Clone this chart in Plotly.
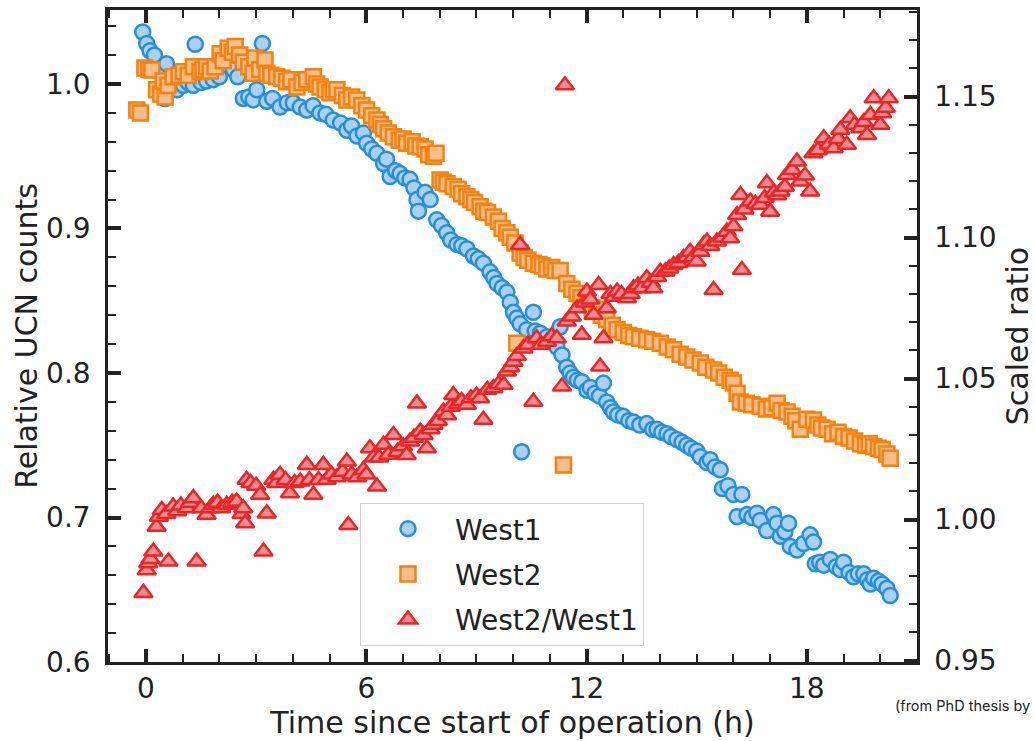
import plotly.graph_objects as go

# ---------------- data ----------------
west1_t = [-0.09, 0.02, 0.11, 0.23, 0.42, 0.52, 0.56, 0.70, 0.84, 1.02, 1.15, 1.29, 1.34, 1.50, 1.65,
           1.83, 2.00, 2.20, 2.38, 2.50, 2.65, 2.80, 2.92, 3.02, 3.17, 3.29, 3.45, 3.65, 3.85, 4.01,
           4.20, 4.38, 4.55, 4.74, 4.90, 5.10, 5.30, 5.47, 5.60, 5.75, 5.92, 6.01, 6.15, 6.29, 6.47,
           6.55, 6.65, 6.80, 6.92, 7.05, 7.19, 7.30, 7.38, 7.42, 7.60, 7.74, 7.92, 8.05, 8.19, 8.30,
           8.47, 8.60, 8.74, 8.92, 9.05, 9.19, 9.37, 9.47, 9.56, 9.70, 9.83, 9.92, 10.01, 10.10, 10.19,
           10.23, 10.37, 10.55, 10.60, 10.74, 10.92, 11.05, 11.19, 11.28, 11.33, 11.46, 11.55, 11.64,
           11.75, 11.87, 12.01, 12.10, 12.23, 12.35, 12.46, 12.55, 12.65, 12.73, 12.85, 13.00, 13.15,
           13.28, 13.45, 13.64, 13.80, 13.92, 14.05, 14.19, 14.30, 14.46, 14.60, 14.73, 14.85, 15.00,
           15.10, 15.28, 15.37, 15.50, 15.64, 15.70, 15.85, 16.00, 16.10, 16.23, 16.37, 16.50, 16.64,
           16.73, 16.91, 17.09, 17.19, 17.28, 17.40, 17.50, 17.55, 17.73, 17.91, 18.09, 18.18, 18.23,
           18.35, 18.46, 18.64, 18.80, 18.91, 19.00, 19.15, 19.27, 19.40, 19.55, 19.65, 19.73, 19.82,
           19.95, 20.05, 20.18, 20.27]
west1_y = [1.036, 1.028, 1.023, 1.020, 1.009, 0.990, 1.014, 0.997, 0.996, 0.999, 1.001, 0.999, 1.0275, 1.001, 1.002,
           1.003, 1.005, 1.013, 1.010, 1.005, 0.990, 0.991, 0.989, 0.996, 1.028, 0.988, 0.990, 0.984, 0.987, 0.987,
           0.984, 0.982, 0.985, 0.980, 0.979, 0.975, 0.973, 0.968, 0.971, 0.964, 0.966, 0.959, 0.955, 0.952, 0.945,
           0.948, 0.936, 0.940, 0.938, 0.935, 0.934, 0.928, 0.920, 0.912, 0.925, 0.920, 0.906, 0.902, 0.897, 0.892,
           0.889, 0.888, 0.886, 0.881, 0.879, 0.876, 0.870, 0.866, 0.862, 0.859, 0.856, 0.849, 0.842, 0.838, 0.834,
           0.7455, 0.830, 0.842, 0.829, 0.8275, 0.825, 0.822, 0.818, 0.832, 0.8125, 0.804, 0.800, 0.797,
           0.795, 0.794, 0.788, 0.790, 0.786, 0.784, 0.793, 0.780, 0.776, 0.773, 0.771, 0.770, 0.767,
           0.766, 0.764, 0.765, 0.761, 0.761, 0.759, 0.758, 0.756, 0.754, 0.752, 0.750, 0.748, 0.746,
           0.742, 0.738, 0.740, 0.735, 0.733, 0.720, 0.722, 0.716, 0.7006, 0.716, 0.702, 0.700, 0.703,
           0.698, 0.691, 0.702, 0.696, 0.687, 0.690, 0.696, 0.680, 0.6775, 0.682, 0.688, 0.683, 0.668,
           0.669, 0.667, 0.671, 0.666, 0.664, 0.669, 0.662, 0.659, 0.661, 0.661, 0.657, 0.654, 0.658,
           0.656, 0.654, 0.651, 0.646]

west2_t = [-0.25, -0.15, -0.03, 0.08, 0.16, 0.29, 0.40, 0.47, 0.52, 0.60, 0.74, 0.90, 1.02, 1.15, 1.29,
           1.47, 1.55, 1.65, 1.75, 1.88, 2.02, 2.10, 2.24, 2.35, 2.43, 2.55, 2.65, 2.80, 2.92, 2.97,
           3.10, 3.24, 3.29, 3.40, 3.56, 3.70, 3.83, 3.95, 4.11, 4.25, 4.38, 4.56, 4.65, 4.74, 4.88,
           5.01, 5.10, 5.20, 5.35, 5.47, 5.60, 5.74, 5.88, 6.01, 6.15, 6.29, 6.38, 6.47, 6.60, 6.74,
           6.90, 7.00, 7.10, 7.25, 7.35, 7.47, 7.60, 7.70, 7.83, 7.90, 8.01, 8.10, 8.20, 8.37, 8.50,
           8.60, 8.74, 8.85, 8.95, 9.10, 9.20, 9.30, 9.46, 9.60, 9.70, 9.83, 9.92, 10.05, 10.10, 10.19,
           10.30, 10.40, 10.55, 10.70, 10.80, 10.92, 11.05, 11.15, 11.28, 11.37, 11.46, 11.60, 11.74,
           11.85, 12.01, 12.15, 12.28, 12.40, 12.55, 12.70, 12.83, 13.00, 13.15, 13.28, 13.45, 13.64,
           13.80, 14.01, 14.20, 14.37, 14.55, 14.73, 14.90, 15.10, 15.25, 15.46, 15.60, 15.75, 15.91,
           16.00, 16.10, 16.19, 16.35, 16.50, 16.73, 16.90, 17.05, 17.19, 17.30, 17.46, 17.60, 17.70,
           17.82, 18.00, 18.18, 18.30, 18.40, 18.55, 18.70, 18.85, 19.00, 19.15, 19.30, 19.46, 19.60,
           19.70, 19.82, 19.95, 20.05, 20.18, 20.27]
west2_y = [0.982, 0.980, 1.011, 1.010, 1.0097, 0.996, 0.993, 1.002, 0.991, 0.999, 1.005, 1.006, 1.0085, 1.006, 1.012,
           1.0085, 1.010, 1.012, 1.009, 1.012, 1.021, 1.016, 1.0247, 1.022, 1.026, 1.020, 1.015, 1.012, 1.0074, 1.018,
           1.010, 1.0166, 1.0074, 1.006, 1.005, 1.004, 1.0016, 1.003, 0.998, 1.001, 1.003, 1.005, 1.000, 0.998, 0.996,
           0.994, 0.996, 0.996, 0.992, 0.989, 0.991, 0.989, 0.985, 0.982, 0.978, 0.975, 0.972, 0.969, 0.966, 0.9635,
           0.961, 0.962, 0.959, 0.960, 0.957, 0.9566, 0.955, 0.951, 0.950, 0.952, 0.9336, 0.932, 0.931, 0.929, 0.927,
           0.924, 0.922, 0.920, 0.918, 0.915, 0.912, 0.911, 0.908, 0.905, 0.900, 0.897, 0.894, 0.890, 0.8206, 0.883,
           0.880, 0.878, 0.876, 0.875, 0.874, 0.872, 0.873, 0.871, 0.871, 0.7363, 0.862, 0.858, 0.855,
           0.852, 0.848, 0.845, 0.844, 0.840, 0.837, 0.833, 0.830, 0.828, 0.826, 0.825, 0.824, 0.823,
           0.822, 0.8206, 0.818, 0.816, 0.813, 0.811, 0.809, 0.807, 0.804, 0.802, 0.800, 0.797, 0.795,
           0.793, 0.786, 0.780, 0.779, 0.778, 0.777, 0.775, 0.776, 0.779, 0.774, 0.773, 0.770, 0.767,
           0.761, 0.768, 0.7675, 0.764, 0.762, 0.761, 0.758, 0.759, 0.756, 0.755, 0.753, 0.751, 0.750,
           0.751, 0.749, 0.748, 0.747, 0.744, 0.741]

ratio_t = [-0.07, 0.02, 0.06, 0.12, 0.20, 0.29, 0.35, 0.43, 0.55, 0.61, 0.74, 0.85, 0.95, 1.11, 1.20,
           1.29, 1.38, 1.50, 1.65, 1.75, 1.83, 1.95, 2.05, 2.20, 2.35, 2.47, 2.60, 2.65, 2.70, 2.74,
           2.85, 3.00, 3.11, 3.20, 3.29, 3.47, 3.55, 3.65, 3.80, 3.92, 4.05, 4.20, 4.38, 4.45, 4.56,
           4.70, 4.83, 4.92, 5.05, 5.20, 5.35, 5.47, 5.51, 5.60, 5.75, 5.92, 6.00, 6.10, 6.20, 6.29,
           6.35, 6.47, 6.60, 6.74, 6.85, 7.00, 7.10, 7.19, 7.30, 7.38, 7.47, 7.56, 7.65, 7.75, 7.83,
           7.95, 8.10, 8.20, 8.30, 8.37, 8.50, 8.60, 8.74, 8.85, 9.00, 9.10, 9.19, 9.30, 9.46, 9.60,
           9.74, 9.83, 9.92, 10.01, 10.10, 10.19, 10.28, 10.40, 10.55, 10.64, 10.75, 10.92, 11.05, 11.19,
           11.33, 11.41, 11.46, 11.60, 11.74, 11.87, 11.95, 12.01, 12.10, 12.19, 12.33, 12.37, 12.46,
           12.55, 12.65, 12.75, 12.83, 12.95, 13.10, 13.20, 13.28, 13.40, 13.50, 13.64, 13.75, 13.82,
           13.92, 14.01, 14.15, 14.25, 14.37, 14.50, 14.64, 14.73, 14.82, 14.90, 15.00, 15.10, 15.19,
           15.28, 15.37, 15.46, 15.55, 15.70, 15.82, 15.91, 16.00, 16.10, 16.19, 16.23, 16.30, 16.46,
           16.60, 16.73, 16.85, 16.91, 17.00, 17.10, 17.19, 17.28, 17.40, 17.46, 17.60, 17.73, 17.82,
           17.95, 18.09, 18.18, 18.30, 18.46, 18.60, 18.73, 18.85, 18.91, 19.09, 19.18, 19.30, 19.46,
           19.55, 19.64, 19.73, 19.82, 20.00, 20.05, 20.15, 20.23]
ratio_y = [0.974, 0.982, 0.9845, 0.986, 0.9887, 0.9975, 1.001, 1.0034, 1.002, 0.9851, 1.0046, 1.003, 1.005, 1.004, 1.006,
           1.0076, 0.9851, 1.004, 1.0017, 1.004, 1.0052, 1.006, 1.004, 1.0052, 1.006, 1.0064, 1.002, 1.004, 0.9987, 1.0141,
           1.013, 1.012, 1.0088, 0.9887, 1.0022, 1.0141, 1.013, 1.0159, 1.014, 1.0093, 1.013, 1.0135, 1.0194, 1.014, 1.0088,
           1.014, 1.0194, 1.0141, 1.016, 1.015, 1.017, 1.0206, 0.9981, 1.016, 1.015, 1.0176, 1.016, 1.0253, 1.022, 1.0117,
           1.022, 1.0265, 1.023, 1.030, 1.024, 1.026, 1.0229, 1.0277, 1.029, 1.0412, 1.0312, 1.030, 1.0253, 1.032, 1.0336,
           1.035, 1.0383, 1.037, 1.040, 1.0442, 1.041, 1.042, 1.0407, 1.043, 1.044, 1.043, 1.0354, 1.046, 1.0466, 1.048,
           1.0478, 1.0525, 1.054, 1.056, 1.058, 1.0974, 1.0607, 1.062, 1.0418, 1.0643, 1.062, 1.0631, 1.065, 1.0643,
           1.0472, 1.154, 1.0702, 1.072, 1.0749, 1.0655, 1.077, 1.0809, 1.078, 1.0726, 1.0832, 1.0543, 1.0643,
           1.0749, 1.080, 1.079, 1.0809, 1.080, 1.0785, 1.080, 1.082, 1.083, 1.082, 1.0856, 1.084, 1.082,
           1.086, 1.0879, 1.088, 1.089, 1.0903, 1.091, 1.0927, 1.093, 1.095, 1.093, 1.0915, 1.095, 1.0974,
           1.0986, 1.097, 1.0814, 1.0986, 1.100, 1.1021, 1.0998, 1.104, 1.108, 1.1151, 1.0885, 1.110, 1.1128,
           1.112, 1.1116, 1.114, 1.1193, 1.1092, 1.116, 1.115, 1.1163, 1.118, 1.1222, 1.124, 1.127, 1.1199,
           1.122, 1.1163, 1.1299, 1.131, 1.1352, 1.133, 1.1317, 1.135, 1.1382, 1.1329, 1.1423, 1.140, 1.1388,
           1.141, 1.1364, 1.1435, 1.1494, 1.140, 1.1441, 1.146, 1.1494]

x_major_ticks = [0, 6, 12, 18]

# ---------------- figure ----------------
INK = "#222222"
FONT = "DejaVu Sans"

fig = go.Figure()
fig.add_trace(go.Scatter(
    x=west1_t, y=west1_y, mode="markers", name="West1", legendgroup="a",
    marker=dict(symbol="circle", size=15, color="#abd0f5", line=dict(color="#2590d8", width=2.5)),
    yaxis="y"))
fig.add_trace(go.Scatter(
    x=west2_t, y=west2_y, mode="markers", name="West2", legendgroup="b",
    marker=dict(symbol="square", size=15, color="#f7bd8a", line=dict(color="#f5820f", width=2.5)),
    yaxis="y"))
fig.add_trace(go.Scatter(
    x=ratio_t, y=ratio_y, mode="markers", name="West2/West1", legendgroup="c",
    marker=dict(symbol="triangle-up", size=16, color="#f08c8c", line=dict(color="#e8262a", width=2.5)),
    yaxis="y2"))

tick_common = dict(ticks="inside", tickcolor=INK, showgrid=False, zeroline=False,
                   showline=True, linecolor=INK, linewidth=2.5,
                   tickfont=dict(family=FONT, size=28, color=INK), automargin=False)

fig.update_layout(
    width=1035, height=741,
    margin=dict(l=108, r=118, t=10, b=79),
    paper_bgcolor="white", plot_bgcolor="white",
    font=dict(family=FONT, color=INK),
    xaxis=dict(range=[-1.035, 21.0], tickmode="array", tickvals=x_major_ticks,
               ticklen=13, tickwidth=3.5, mirror="ticks", ticklabelstandoff=0,
               minor=dict(ticks="inside", dtick=1, tick0=0, ticklen=8, tickwidth=2, tickcolor=INK),
               title=dict(text="Time since start of operation (h)",
                          font=dict(family=FONT, size=30, color=INK), standoff=8),
               **tick_common),
    yaxis=dict(range=[0.6, 1.0512], tickmode="linear", tick0=0.6, dtick=0.1, tickformat=".1f",
               ticklen=13, tickwidth=3.5, ticklabelstandoff=9,
               minor=dict(ticks="inside", dtick=0.02, tick0=0.6, ticklen=8, tickwidth=2, tickcolor=INK),
               title=dict(text="Relative UCN counts",
                          font=dict(family=FONT, size=30, color=INK), standoff=0),
               **tick_common),
    yaxis2=dict(range=[0.9495, 1.1807], overlaying="y", side="right",
                tickmode="linear", tick0=0.95, dtick=0.05, tickformat=".2f",
                ticklen=13, tickwidth=3.5, ticklabelstandoff=9,
                minor=dict(ticks="inside", dtick=0.01, tick0=0.95, ticklen=8, tickwidth=2, tickcolor=INK),
                title=dict(text="Scaled ratio",
                           font=dict(family=FONT, size=30, color=INK), standoff=12),
                **tick_common),
    legend=dict(x=0.3115, y=0.2439, xanchor="left", yanchor="top",
                bgcolor="white", bordercolor="#d0d0d0", borderwidth=1,
                font=dict(family=FONT, size=28, color=INK),
                traceorder="grouped", tracegroupgap=6, itemwidth=84),
    showlegend=True,
    annotations=[dict(text="(from PhD thesis by", xref="paper", yref="paper",
                      x=0.9703, y=-0.066, xanchor="left", yanchor="middle", showarrow=False,
                      font=dict(family="Inter", size=14.5, color=INK))],
)

fig.write_html("out.html")
